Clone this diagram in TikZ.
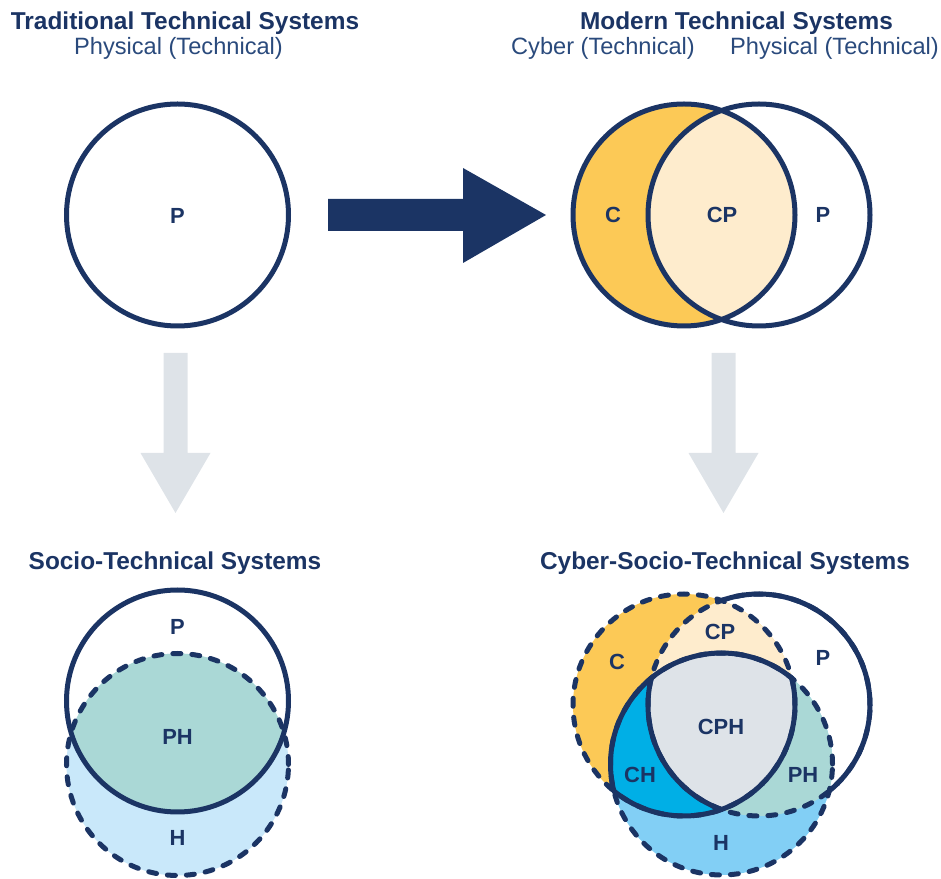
\documentclass[tikz,border=0pt]{standalone}
\usepackage{fontspec}
\setmainfont{Liberation Sans}
\definecolor{cNavy}{HTML}{1B3464}
\definecolor{cSub}{HTML}{2A4A7C}
\definecolor{cCyber}{HTML}{FCC956}
\definecolor{cCyPh}{HTML}{FEECCD}
\definecolor{cAll}{HTML}{DEE3E8}
\definecolor{cCyHu}{HTML}{00AFE6}
\definecolor{cPhHu}{HTML}{AAD8D6}
\definecolor{cHuman}{HTML}{82CFF5}
\definecolor{cHumanLt}{HTML}{C9E8FA}
\definecolor{cGrey}{HTML}{DEE3E8}
\usetikzlibrary{calc}

\begin{document}
\begin{tikzpicture}[x=1bp,y=1bp,
      ttl/.style={font=\fontsize{24.5}{29}\selectfont\bfseries,color=cNavy,anchor=base},
      sub/.style={font=\fontsize{23.7}{28}\selectfont,color=cSub,anchor=base},
      lbl/.style={font=\fontsize{22}{26}\selectfont\bfseries,color=cNavy},
      ring/.style={draw=cNavy,line width=5bp,line cap=round},
      dashring/.style={ring,dash pattern=on 8bp off 11bp}]
    \useasboundingbox (0,0) rectangle (941,879);
    \def\rr{111}
    % circle centres
    \coordinate (tlP) at (177.5,664);
    \coordinate (trC) at (684,664);
    \coordinate (trP) at (759,664);
    \coordinate (blP) at (177.5,178);
    \coordinate (blH) at (177.5,114.5);
    \coordinate (brC) at (684,174);
    \coordinate (brP) at (759,174);
    \coordinate (brH) at (721.5,115);
    % headings
    \node[ttl] (tlTitle) at (185,849) {Traditional Technical Systems};
    \node[sub] (tlSub) at (178.5,824) {Physical (Technical)};
    \node[ttl] (trTitle) at (736.5,849) {Modern Technical Systems};
    \node[sub] (trSubC) at (603,824) {Cyber (Technical)};
    \node[sub] (trSubP) at (834.5,824) {Physical (Technical)};
    \node[ttl] (blTitle) at (175,309) {Socio-Technical Systems};
    \node[ttl] (brTitle) at (725,309) {Cyber-Socio-Technical Systems};
    % block arrows
    \fill[cNavy] (328,648) -- (463,648) -- (463,616) -- (546,664)
      -- (463,711) -- (463,680) -- (328,680) -- cycle;
    \foreach \ax in {175.5,723.5}
      \fill[cGrey] (\ax-12,526) -- (\ax+12,526) -- (\ax+12,426) -- (\ax+35,426)
        -- (\ax,366) -- (\ax-35,426) -- (\ax-12,426) -- cycle;
    % traditional
    \draw[ring] (tlP) circle[radius=\rr];
    \node[lbl] (tlLP) at (177.5,663.5) {P};
    % modern
    \fill[cCyber] (trC) circle[radius=\rr];
    \begin{scope}
      \clip (trC) circle[radius=\rr];
      \fill[cCyPh] (trP) circle[radius=\rr];
    \end{scope}
    \draw[ring] (trC) circle[radius=\rr] (trP) circle[radius=\rr];
    \node[lbl] (trLC) at (613,664) {C};
    \node[lbl] (trLCP) at (722,664) {CP};
    \node[lbl] (trLP) at (823,664) {P};
    % socio-technical
    \fill[cHumanLt] (blH) circle[radius=\rr];
    \begin{scope}
      \clip (blP) circle[radius=\rr];
      \fill[cPhHu] (blH) circle[radius=\rr];
    \end{scope}
    \draw[dashring] (blH) circle[radius=\rr];
    \draw[ring] (blP) circle[radius=\rr];
    \node[lbl] (blLP) at (177.5,252) {P};
    \node[lbl] (blLPH) at (177.5,142) {PH};
    \node[lbl] (blLH) at (177.5,41) {H};
    % cyber-socio-technical
    \fill[cCyber] (brC) circle[radius=\rr];
    \fill[cHuman] (brH) circle[radius=\rr];
    \begin{scope}
      \clip (brC) circle[radius=\rr];
      \fill[cCyPh] (brP) circle[radius=\rr];
    \end{scope}
    \begin{scope}
      \clip (brP) circle[radius=\rr];
      \fill[cPhHu] (brH) circle[radius=\rr];
    \end{scope}
    \begin{scope}
      \clip (brC) circle[radius=\rr];
      \fill[cCyHu] (brH) circle[radius=\rr];
      \clip (brP) circle[radius=\rr];
      \fill[cAll] (brH) circle[radius=\rr];
    \end{scope}
    \draw[dashring] (brC) circle[radius=\rr] (brP) circle[radius=\rr]
      (brH) circle[radius=\rr];
    % solid parts
    \draw[ring] (brP) ++(-50.79:\rr) arc[start angle=-50.79,end angle=109.75,radius=\rr];
    \draw[ring] (brC) ++(230.79:\rr) arc[start angle=230.79,end angle=374.08,radius=\rr];
    \draw[ring] (brH) ++(50.79:\rr) arc[start angle=50.79,end angle=194.08,radius=\rr];
    \draw[ring] (brP) ++(165.92:\rr) arc[start angle=165.92,end angle=250.25,radius=\rr];
    \node[lbl] (brLC) at (617,217) {C};
    \node[lbl] (brLCP) at (720,247) {CP};
    \node[lbl] (brLP) at (823,221) {P};
    \node[lbl] (brLCPH) at (721,152) {CPH};
    \node[lbl] (brLCH) at (640,104) {CH};
    \node[lbl] (brLPH) at (803,104) {PH};
    \node[lbl] (brLH) at (721,36) {H};
  \end{tikzpicture}
\end{document}
